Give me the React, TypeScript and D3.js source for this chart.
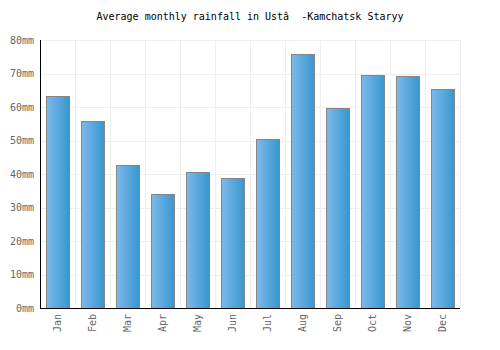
import React, { useEffect, useRef } from 'react';
import * as d3 from 'd3';

const months = ['Jan', 'Feb', 'Mar', 'Apr', 'May', 'Jun', 'Jul', 'Aug', 'Sep', 'Oct', 'Nov', 'Dec'];
const rainfall = [63.2, 55.8, 42.7, 34.0, 40.6, 38.8, 50.4, 75.7, 59.6, 69.5, 69.2, 65.3];
const yTicks = [0, 10, 20, 30, 40, 50, 60, 70, 80];

function App() {
    const svgRef = useRef<SVGSVGElement>(null);

    useEffect(() => {
        const width = 500;
        const height = 350;
        const margin = { top: 40, right: 40, bottom: 42, left: 40 };
        const innerW = width - margin.left - margin.right;
        const innerH = height - margin.top - margin.bottom;
        const font = '"DejaVu Sans Mono", monospace';

        const svg = d3.select(svgRef.current);
        svg.selectAll('*').remove();

        const defs = svg.append('defs');
        const grad = defs.append('linearGradient')
            .attr('id', 'barGrad')
            .attr('x1', '0%').attr('x2', '100%')
            .attr('y1', '0%').attr('y2', '0%');
        grad.append('stop').attr('offset', '0%').attr('stop-color', '#7db9eb');
        grad.append('stop').attr('offset', '100%').attr('stop-color', '#3797cf');

        const g = svg.append('g')
            .attr('transform', `translate(${margin.left}, ${margin.top})`);

        const x = d3.scaleBand()
            .domain(months)
            .range([0, innerW])
            .paddingInner(0)
            .paddingOuter(0);

        const y = d3.scaleLinear()
            .domain([0, 80])
            .range([innerH, 0]);

        // grid
        g.append('g')
            .selectAll('line')
            .data(yTicks)
            .enter()
            .append('line')
            .attr('x1', 0)
            .attr('x2', innerW)
            .attr('y1', d => Math.round(y(d)) + 0.5)
            .attr('y2', d => Math.round(y(d)) + 0.5)
            .attr('stroke', '#eeeeee');

        g.append('g')
            .selectAll('line')
            .data(months)
            .enter()
            .append('line')
            .attr('x1', d => Math.round(x(d)! + x.bandwidth()) + 0.5)
            .attr('x2', d => Math.round(x(d)! + x.bandwidth()) + 0.5)
            .attr('y1', 0)
            .attr('y2', innerH)
            .attr('stroke', '#eeeeee');

        // bars
        const barW = 23;
        g.append('g')
            .selectAll('rect')
            .data(rainfall)
            .enter()
            .append('rect')
            .attr('x', (d, i) => Math.round(x(months[i])! + (x.bandwidth() - barW) / 2) + 0.5)
            .attr('y', d => Math.round(y(d)) + 0.5)
            .attr('width', barW)
            .attr('height', d => innerH - Math.round(y(d)))
            .attr('fill', 'url(#barGrad)')
            .attr('stroke', '#858585')
            .attr('stroke-width', 1);

        // axes lines
        g.append('line')
            .attr('x1', 0.5).attr('x2', 0.5)
            .attr('y1', 0).attr('y2', innerH)
            .attr('stroke', '#000');
        g.append('line')
            .attr('x1', 0).attr('x2', innerW)
            .attr('y1', innerH + 0.5).attr('y2', innerH + 0.5)
            .attr('stroke', '#000');

        // y labels
        g.append('g')
            .selectAll('text')
            .data(yTicks)
            .enter()
            .append('text')
            .attr('x', -6)
            .attr('y', d => y(d))
            .attr('dy', '0.35em')
            .attr('text-anchor', 'end')
            .style('font-family', font)
            .style('font-size', '10px')
            .attr('fill', '#666')
            .text(d => `${d}mm`);

        // x labels
        g.append('g')
            .selectAll('text')
            .data(months)
            .enter()
            .append('text')
            .attr('transform', d => `translate(${x(d)! + x.bandwidth() / 2}, ${innerH + 6}) rotate(-90)`)
            .attr('dy', '0.35em')
            .attr('text-anchor', 'end')
            .style('font-family', font)
            .style('font-size', '10px')
            .attr('fill', '#666')
            .text(d => d);

        // title
        svg.append('text')
            .attr('x', width / 2)
            .attr('y', 20)
            .attr('text-anchor', 'middle')
            .style('font-family', font)
            .style('font-size', '10px')
            .style('white-space', 'pre')
            .attr('fill', '#000')
            .text('Average monthly rainfall in Ustâ  -Kamchatsk Staryy');
    }, []);

    return (
        <svg ref={svgRef} width={500} height={350}
            style={{ position: 'absolute', left: 0, top: 0, background: '#fff' }} />
    );
}

export default App;
